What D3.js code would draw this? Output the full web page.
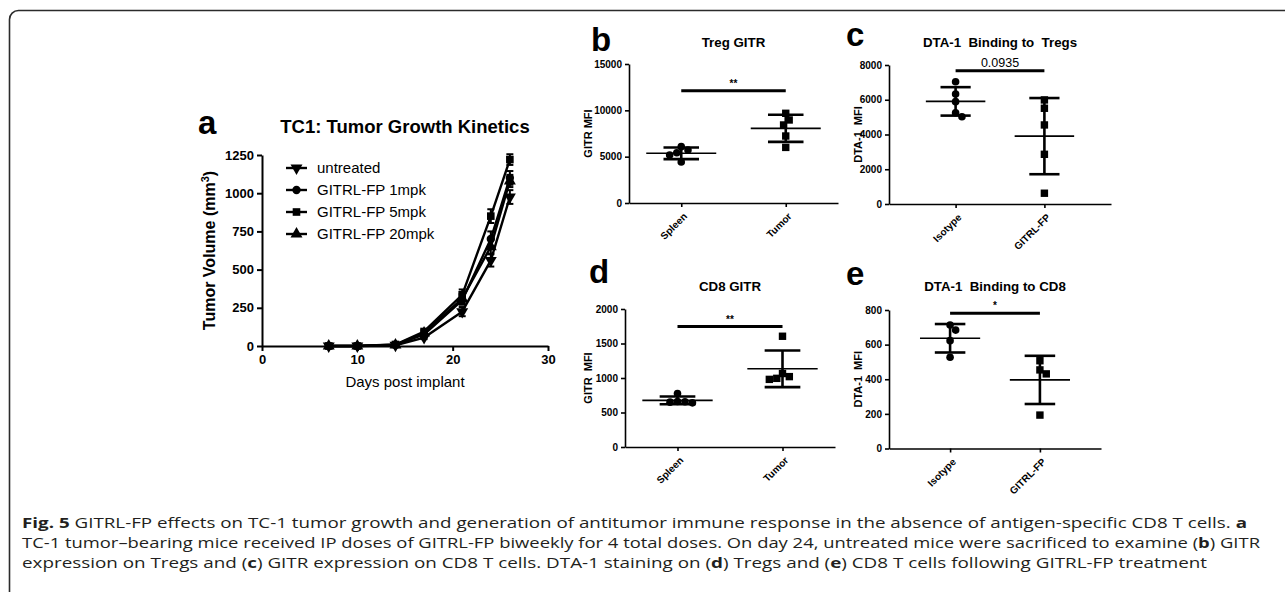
<!DOCTYPE html>
<html><head><meta charset="utf-8">
<script src="https://cdn.jsdelivr.net/npm/d3@7"></script>
<style>
body{margin:0;background:#fff;}
svg{display:block;font-family:"Liberation Sans",Arial,sans-serif;}
.pre{white-space:pre;}
</style></head><body>
<svg id="chart" width="1285" height="592"></svg>
<script>
// ---------- DATA ----------
// Panel a: tumor growth kinetics
const days = [7, 10, 14, 17, 21, 24, 26];
const seriesNames = ["untreated", "GITRL-FP 1mpk", "GITRL-FP 5mpk", "GITRL-FP 20mpk"];
const untreatedVol = [0, 0, 5, 55, 225, 560, 975];
const mpk1Vol      = [0, 0, 8, 75, 300, 700, 1100];
const mpk5Vol      = [0, 0, 10, 95, 335, 850, 1220];
const mpk20Vol     = [0, 0, 7, 85, 310, 650, 1080];
const untreatedErr = [0, 0, 3, 10, 30, 40, 45];
const mpk1Err      = [0, 0, 3, 10, 30, 50, 45];
const mpk5Err      = [0, 0, 3, 10, 35, 45, 35];
const mpk20Err     = [0, 0, 3, 10, 30, 45, 40];
const aXTicks = [0, 10, 20, 30];
const aYTicks = [0, 250, 500, 750, 1000, 1250];

// Panel b: Treg GITR
const bCategories = ["Spleen", "Tumor"];
const bSpleen = [6080, 5720, 5430, 5180, 4420];
const bTumor  = [9680, 8960, 8420, 7230, 6000];
const bTicks = [0, 5000, 10000, 15000];
const bSig = 12100, bSigLabel = "**";

// Panel c: DTA-1 binding to Tregs
const cCategories = ["Isotype", "GITRL-FP"];
const cIsotype = [7040, 6330, 5890, 5250, 5020];
const cGitrl   = [5990, 5510, 4550, 2860, 620];
const cTicks = [0, 2000, 4000, 6000, 8000];
const cSig = 7670, cSigLabel = "0.0935";

// Panel d: CD8 GITR
const dCategories = ["Spleen", "Tumor"];
const dSpleen = [775, 660, 650, 655, 640];
const dTumor  = [1605, 1020, 980, 995, 1065];
const dTicks = [0, 500, 1000, 1500, 2000];
const dSig = 1745, dSigLabel = "**";

// Panel e: DTA-1 binding to CD8
const eCategories = ["Isotype", "GITRL-FP"];
const eIsotype = [713, 684, 623, 527];
const eGitrl   = [507, 454, 431, 193];
const eTicks = [0, 200, 400, 600, 800];
const eSig = 781, eSigLabel = "*";

// ---------- DRAWING ----------
const svg = d3.select("#chart");
svg.append("rect").attr("width", 1285).attr("height", 592).attr("fill", "#fff");
svg.append("rect").attr("x", 9.5).attr("y", 10.5).attr("width", 1300).attr("height", 610)
  .attr("rx", 9).attr("fill", "none").attr("stroke", "#2b2b2b").attr("stroke-width", 1.6);

function styleAxis(g, fontSize, sw) {
  g.select(".domain").attr("stroke", "#000").attr("stroke-width", sw);
  g.selectAll(".tick line").attr("stroke", "#000").attr("stroke-width", sw);
  g.selectAll(".tick text").attr("fill", "#000").attr("font-weight", "bold")
    .attr("font-size", fontSize).attr("font-family", '"Liberation Sans",Arial,sans-serif');
}

// ----- Panel a -----
(function () {
  const x = d3.scaleLinear().domain([0, 30]).range([262, 548]);
  const y = d3.scaleLinear().domain([0, 1250]).range([346, 155]);
  const g = svg.append("g");
  const gx = g.append("g").attr("transform", `translate(0,${y(0)})`)
    .call(d3.axisBottom(x).tickValues(aXTicks).tickSize(5).tickSizeOuter(0).tickPadding(4).tickFormat(d3.format("d")));
  styleAxis(gx, 13, 2);
  const gy = g.append("g").attr("transform", `translate(${x(0)},0)`)
    .call(d3.axisLeft(y).tickValues(aYTicks).tickSize(5).tickSizeOuter(0).tickPadding(3).tickFormat(d3.format("d")));
  styleAxis(gy, 13, 2);

  const vols = [untreatedVol, mpk1Vol, mpk5Vol, mpk20Vol];
  const errs = [untreatedErr, mpk1Err, mpk5Err, mpk20Err];
  const symbols = [
    { t: d3.symbolTriangle, rot: 180, size: 62 },
    { t: d3.symbolCircle, rot: 0, size: 55 },
    { t: d3.symbolSquare, rot: 0, size: 58 },
    { t: d3.symbolTriangle, rot: 0, size: 62 }
  ];
  const line = d3.line().x(d => x(d.day)).y(d => y(d.v));
  vols.forEach((vs, i) => {
    const pts = days.map((day, k) => ({ day, v: vs[k], e: errs[i][k] }));
    g.append("path").datum(pts).attr("d", line).attr("fill", "none")
      .attr("stroke", "#000").attr("stroke-width", 2.4);
    const eb = g.append("g");
    pts.filter(p => p.e > 0).forEach(p => {
      eb.append("line").attr("x1", x(p.day)).attr("x2", x(p.day))
        .attr("y1", y(p.v - p.e)).attr("y2", y(p.v + p.e)).attr("stroke", "#000").attr("stroke-width", 2);
      [p.v - p.e, p.v + p.e].forEach(v => eb.append("line")
        .attr("x1", x(p.day) - 3.5).attr("x2", x(p.day) + 3.5).attr("y1", y(v)).attr("y2", y(v))
        .attr("stroke", "#000").attr("stroke-width", 2));
    });
    const s = symbols[i];
    g.selectAll(null).data(pts).enter().append("path")
      .attr("d", d3.symbol().type(s.t).size(s.size))
      .attr("transform", d => `translate(${x(d.day)},${y(d.v)}) rotate(${s.rot})`)
      .attr("fill", "#000");
  });

  // legend
  const legY = d3.scalePoint().domain(seriesNames).range([168, 234]);
  seriesNames.forEach((name, i) => {
    const yy = legY(name);
    g.append("line").attr("x1", 286).attr("x2", 307).attr("y1", yy).attr("y2", yy)
      .attr("stroke", "#000").attr("stroke-width", 2.4);
    const s = symbols[i];
    g.append("path").attr("d", d3.symbol().type(s.t).size(s.size))
      .attr("transform", `translate(296.5,${yy}) rotate(${s.rot})`).attr("fill", "#000");
    g.append("text").attr("x", 317).attr("y", yy).attr("dy", "0.36em")
      .attr("font-size", 15).attr("fill", "#000").text(name);
  });

  g.append("text").attr("x", 198).attr("y", 134).attr("font-size", 33).attr("font-weight", "bold").text("a");
  g.append("text").attr("x", 405).attr("y", 133).attr("text-anchor", "middle")
    .attr("font-size", 18.5).attr("font-weight", "bold").text("TC1: Tumor Growth Kinetics");
  const yt = g.append("text").attr("transform", `translate(215,${(y(0) + y(1250)) / 2}) rotate(-90)`)
    .attr("text-anchor", "middle").attr("font-size", 16).attr("font-weight", "bold");
  yt.append("tspan").text("Tumor Volume (mm");
  yt.append("tspan").attr("dy", -6).attr("font-size", 11).text("3");
  yt.append("tspan").attr("dy", 6).text(")");
  g.append("text").attr("x", (x(0) + x(30)) / 2).attr("y", 387).attr("text-anchor", "middle")
    .attr("font-size", 15).text("Days post implant");
})();

// ----- Scatter panels -----
function swarm(values, y, D) {
  const placed = [];
  const order = values.map((v, i) => i).sort((a, b) => values[b] - values[a]);
  const out = new Array(values.length);
  order.forEach(i => {
    const py = y(values[i]);
    const cands = [0];
    placed.forEach(p => {
      const dy = Math.abs(p.y - py);
      if (dy < D) { const dx = Math.sqrt(D * D - dy * dy); cands.push(p.x + dx, p.x - dx); }
    });
    cands.sort((a, b) => Math.abs(a) - Math.abs(b));
    let best = 0;
    for (const c of cands) {
      if (placed.every(p => (p.x - c) ** 2 + (p.y - py) ** 2 >= D * D - 0.01)) { best = c; break; }
    }
    placed.push({ x: best, y: py });
    out[i] = best;
  });
  return out;
}

function scatterPanel(cfg) {
  const g = svg.append("g");
  const y = d3.scaleLinear().domain([0, cfg.max]).range([cfg.yBot, cfg.yTop]);
  const x = d3.scalePoint().domain(cfg.cats).range([cfg.x0, cfg.x1]).padding(cfg.pad);
  const step = x.step();

  const gx = g.append("g").attr("transform", `translate(0,${cfg.yBot})`)
    .call(d3.axisBottom(x).tickSize(4).tickSizeOuter(0));
  styleAxis(gx, 10, 1.6);
  gx.selectAll(".tick text").attr("y", 0).attr("dy", 0).attr("text-anchor", "end")
    .attr("transform", "translate(6,14) rotate(-45)");
  const gy = g.append("g").attr("transform", `translate(${cfg.x0},0)`)
    .call(d3.axisLeft(y).tickValues(cfg.ticks).tickSize(4).tickSizeOuter(0).tickPadding(3).tickFormat(d3.format("d")));
  styleAxis(gy, 10, 1.6);

  cfg.groups.forEach((vals, gi) => {
    const cx = x(cfg.cats[gi]);
    const m = d3.mean(vals), sd = d3.deviation(vals);
    const mh = 0.335 * step, ch = 0.17 * step;
    g.append("line").attr("x1", cx - mh).attr("x2", cx + mh).attr("y1", y(m)).attr("y2", y(m))
      .attr("stroke", "#000").attr("stroke-width", 1.6);
    g.append("line").attr("x1", cx).attr("x2", cx).attr("y1", y(m - sd)).attr("y2", y(m + sd))
      .attr("stroke", "#000").attr("stroke-width", 2.6);
    [m - sd, m + sd].forEach(v => g.append("line").attr("x1", cx - ch).attr("x2", cx + ch)
      .attr("y1", y(v)).attr("y2", y(v)).attr("stroke", "#000").attr("stroke-width", 2.6));
    const offs = swarm(vals, y, 7.5);
    vals.forEach((v, k) => {
      if (gi === 0) {
        g.append("circle").attr("cx", cx + offs[k]).attr("cy", y(v)).attr("r", 3.8).attr("fill", "#000");
      } else {
        g.append("rect").attr("x", cx + offs[k] - 3.7).attr("y", y(v) - 3.7)
          .attr("width", 7.4).attr("height", 7.4).attr("fill", "#000");
      }
    });
  });

  // significance
  const sy = y(cfg.sig);
  g.append("line").attr("x1", x(cfg.cats[0])).attr("x2", x(cfg.cats[1])).attr("y1", sy).attr("y2", sy)
    .attr("stroke", "#000").attr("stroke-width", 3);
  g.append("text").attr("x", (x(cfg.cats[0]) + x(cfg.cats[1])) / 2).attr("y", sy - 4)
    .attr("text-anchor", "middle").attr("font-size", cfg.sigSize).attr("font-weight", cfg.sigBold ? "bold" : "normal")
    .text(cfg.sigLabel);

  g.append("text").attr("x", cfg.lx).attr("y", cfg.ly).attr("font-size", 33).attr("font-weight", "bold").text(cfg.letter);
  g.append("text").attr("class", "pre").attr("x", (cfg.x0 + cfg.x1) / 2).attr("y", cfg.ty)
    .attr("text-anchor", "middle").attr("font-size", 13.3).attr("font-weight", "bold").text(cfg.title);
  g.append("text").attr("class", "pre")
    .attr("transform", `translate(${cfg.yTitleX},${(cfg.yTop + cfg.yBot) / 2}) rotate(-90)`)
    .attr("text-anchor", "middle").attr("font-size", 11).attr("font-weight", "bold").text(cfg.yTitle);
}

scatterPanel({ x0: 629, x1: 838, yTop: 64, yBot: 203, max: 15000, ticks: bTicks, pad: 0.5,
  cats: bCategories, groups: [bSpleen, bTumor], sig: bSig, sigLabel: bSigLabel, sigSize: 10, sigBold: true,
  letter: "b", lx: 591, ly: 51, title: "Treg GITR", ty: 47, yTitle: "GITR MFI", yTitleX: 592 });
scatterPanel({ x0: 889, x1: 1111, yTop: 65, yBot: 204, max: 8000, ticks: cTicks, pad: 0.75,
  cats: cCategories, groups: [cIsotype, cGitrl], sig: cSig, sigLabel: cSigLabel, sigSize: 12.5, sigBold: false,
  letter: "c", lx: 846, ly: 46, title: "DTA-1  Binding to  Tregs", ty: 47, yTitle: "DTA-1  MFI", yTitleX: 862 });
scatterPanel({ x0: 625, x1: 835, yTop: 309, yBot: 447, max: 2000, ticks: dTicks, pad: 0.5,
  cats: dCategories, groups: [dSpleen, dTumor], sig: dSig, sigLabel: dSigLabel, sigSize: 10, sigBold: true,
  letter: "d", lx: 589, ly: 283, title: "CD8 GITR", ty: 291, yTitle: "GITR  MFI", yTitleX: 592 });
scatterPanel({ x0: 889, x1: 1101, yTop: 310, yBot: 448.5, max: 800, ticks: eTicks, pad: 0.68,
  cats: eCategories, groups: [eIsotype, eGitrl], sig: eSig, sigLabel: eSigLabel, sigSize: 10, sigBold: true,
  letter: "e", lx: 846, ly: 285, title: "DTA-1  Binding to CD8", ty: 291, yTitle: "DTA-1  MFI", yTitleX: 862 });

// ----- Caption -----
const captionLines = [
  [["Fig. 5", true], [" GITRL-FP effects on TC-1 tumor growth and generation of antitumor immune response in the absence of antigen-specific CD8 T cells. ", false], ["a", true]],
  [["TC-1 tumor–bearing mice received IP doses of GITRL-FP biweekly for 4 total doses. On day 24, untreated mice were sacrificed to examine (", false], ["b", true], [") GITR", false]],
  [["expression on Tregs and (", false], ["c", true], [") GITR expression on CD8 T cells. DTA-1 staining on (", false], ["d", true], [") Tregs and (", false], ["e", true], [") CD8 T cells following GITRL-FP treatment", false]]
];
const capWidths = [1225, 1238, 1185];
const capY = [528, 548, 568];
captionLines.forEach((parts, i) => {
  const t = svg.append("text").attr("x", 22).attr("y", capY[i])
    .attr("font-family", '"Open Sans","Noto Sans",sans-serif').attr("font-size", 14.5).attr("fill", "#231f20")
    .attr("textLength", capWidths[i]).attr("lengthAdjust", "spacingAndGlyphs");
  parts.forEach(([s, b]) => t.append("tspan").attr("font-weight", b ? "bold" : "normal").text(s));
});
</script>
</body></html>
